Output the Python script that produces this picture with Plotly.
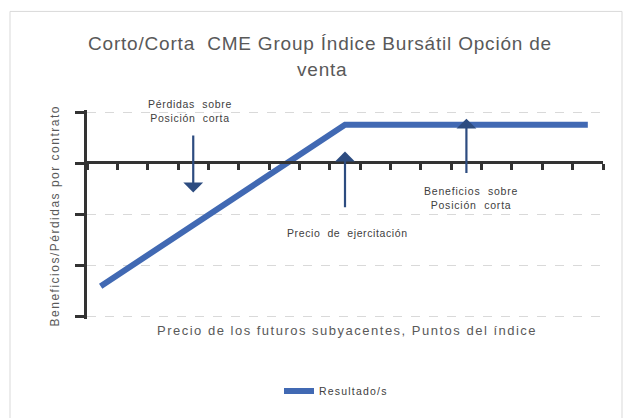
import plotly.graph_objects as go

# Data (index points scale on x, P/L per contract on y)
price_points = [0.45, 8.5, 16.5]
payoff = [-2.4, 0.75, 0.75]
series_name = "Resultado/s"

title_line1 = "Corto/Corta  CME Group Índice Bursátil Opción de"
title_line2 = "venta"
x_title = "Precio de los futuros subyacentes, Puntos del índice"
y_title = "Beneficios/Pérdidas por contrato"

# arrows: (x, tail_y, head_y)
arrow_loss = (3.5, 0.57, -0.57)
arrow_strike = (8.5, -0.89, 0.23)
arrow_profit = (12.5, -0.22, 0.87)
label_loss = "Pérdidas  sobre<br>Posición  corta"
label_strike = "Precio  de  ejercitación"
label_profit = "Beneficios  sobre<br>Posición  corta"

L, R, T, B = 87, 30, 110, 96
W, H = 633, 418
pw, ph = W - L - R, H - T - B


def px(xp):
    return (xp - L) / pw


def py(yp):
    return (T + ph - yp) / ph


def spaced(text, ls):
    return '<span style="letter-spacing:%spx">%s</span>' % (ls, text)


blue = "#4169B3"
navy = "#2D4C80"
grey_txt = "#595959"
axis_col = "#333333"
FONT = "Liberation Sans, Arial"

fig = go.Figure()
fig.add_trace(go.Scatter(x=price_points, y=payoff, mode="lines",
                         name=spaced(series_name, 1.2),
                         line=dict(color=blue, width=6), showlegend=True))

annotations = []
for (ax_, ty, hy) in [arrow_loss, arrow_strike, arrow_profit]:
    annotations.append(dict(x=ax_, y=hy, ax=ax_, ay=ty, xref="x", yref="y", axref="x", ayref="y",
                            text="", showarrow=True, arrowhead=1, arrowsize=1.5, arrowwidth=2.2,
                            arrowcolor=navy))

small_font = dict(family=FONT, size=10.5, color="#404040")
annotations += [
    dict(x=px(190), y=py(111), xref="paper", yref="paper",
         text="<br>".join(spaced(s, 0.7) for s in label_loss.split("<br>")), showarrow=False,
         font=small_font, xanchor="center", yanchor="middle"),
    dict(x=px(347), y=py(235), xref="paper", yref="paper", text=spaced(label_strike, 0.6),
         showarrow=False, font=small_font, xanchor="center", yanchor="middle"),
    dict(x=px(471), y=py(199.5), xref="paper", yref="paper",
         text="<br>".join(spaced(s, 0.8) for s in label_profit.split("<br>")), showarrow=False,
         font=small_font, xanchor="center", yanchor="middle"),
    dict(x=px(320), y=py(42.5), xref="paper", yref="paper", text=spaced(title_line1, 0.8),
         showarrow=False, font=dict(family=FONT, size=19, color=grey_txt),
         xanchor="center", yanchor="middle"),
    dict(x=px(322), y=py(69), xref="paper", yref="paper", text=spaced(title_line2, 0.8),
         showarrow=False, font=dict(family=FONT, size=19, color=grey_txt),
         xanchor="center", yanchor="middle"),
    dict(x=px(347), y=py(334), xref="paper", yref="paper", text=spaced(x_title, 1.5),
         showarrow=False, font=dict(family=FONT, size=13, color=grey_txt),
         xanchor="center", yanchor="middle"),
    dict(x=px(55), y=py(218), xref="paper", yref="paper", text=spaced(y_title, 1.5),
         showarrow=False, textangle=-90, font=dict(family=FONT, size=12, color=grey_txt),
         xanchor="center", yanchor="middle"),
]

shapes = [
    dict(type="rect", xref="paper", yref="paper", x0=px(10), x1=px(622), y0=py(430), y1=py(10),
         line=dict(color="#d9d9d9", width=1), fillcolor="rgba(0,0,0,0)", layer="below"),
    dict(type="line", xref="paper", yref="y", x0=px(78), x1=0, y0=0, y1=0,
         line=dict(color=axis_col, width=2.5)),
]

fig.update_layout(
    width=W, height=H,
    margin=dict(l=L, r=R, t=T, b=B),
    paper_bgcolor="white", plot_bgcolor="white",
    showlegend=True,
    legend=dict(orientation="h", x=px(336), y=py(395), xanchor="center", yanchor="middle",
                font=dict(family=FONT, size=10.5, color="#404040"),
                bgcolor="rgba(0,0,0,0)"),
    annotations=annotations,
    shapes=shapes,
    xaxis=dict(range=[0, 17], dtick=1, tick0=0, showgrid=False, zeroline=False,
               showline=True, linecolor=axis_col, linewidth=2.5,
               ticks="outside", ticklen=6, tickwidth=2.5, tickcolor=axis_col,
               showticklabels=False, anchor="free", position=0.75),
    yaxis=dict(range=[-3.04, 1.04], dtick=1, tick0=0, showgrid=True, gridcolor="#d9d9d9",
               griddash="dash", gridwidth=1, zeroline=False,
               showline=True, linecolor=axis_col, linewidth=2.5,
               ticks="outside", ticklen=9, tickwidth=2.5, tickcolor=axis_col,
               showticklabels=False, domain=[0, 1]),
)

fig.write_html("out.html", post_script="document.body.style.margin='0';",
               config={"displayModeBar": False})
